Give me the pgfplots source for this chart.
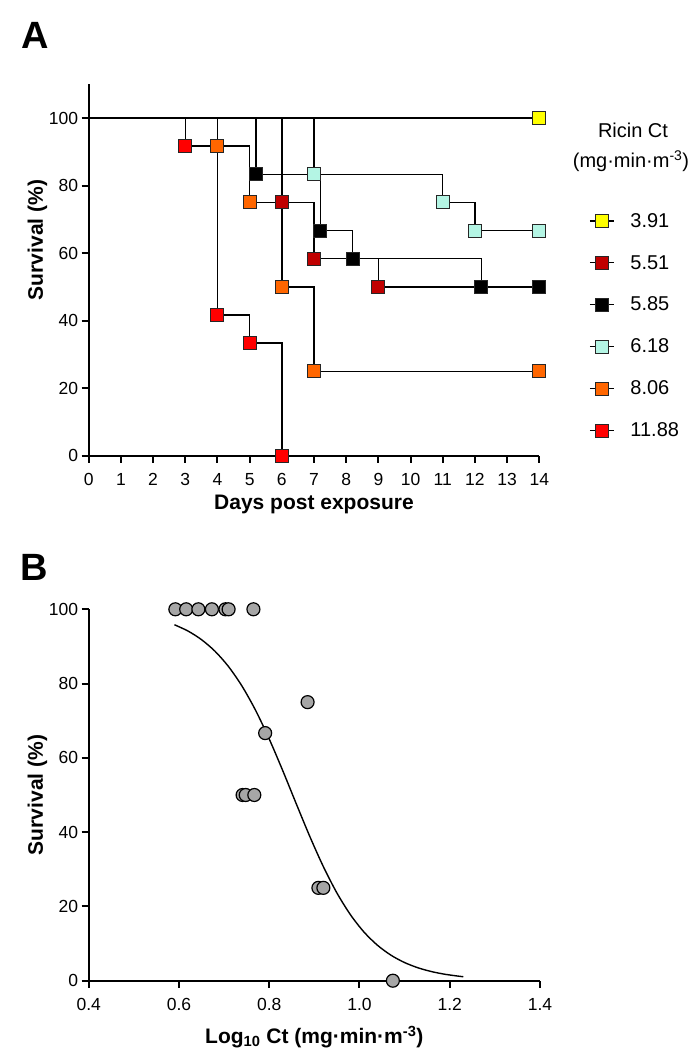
\documentclass[border=0pt]{standalone}
\usepackage{pgfplots}
\pgfplotsset{compat=1.18}
\usepackage{fontspec}
\setmainfont{Liberation Sans}
\definecolor{cyel}{RGB}{255,255,0}
\definecolor{cdred}{RGB}{192,0,0}
\definecolor{ccyan}{RGB}{180,245,228}
\definecolor{corange}{RGB}{255,102,0}
\definecolor{cred}{RGB}{255,0,0}
\definecolor{cgray}{RGB}{166,166,166}

\tikzset{lab/.style={font=\bfseries\fontsize{21}{25}\selectfont}}
\pgfplotsset{
 common/.style={
  scale only axis, clip=false,
  axis x line*=bottom, axis y line*=left,
  axis line style={line width=2pt},
  tick align=outside, major tick length=7pt,
  tick style={line width=2pt, black},
  /pgf/number format/assume math mode=true,
  tick label style={font=\fontsize{17.5}{20}\selectfont},
  xticklabel style={text height=12.5pt, text depth=0pt, yshift=-6.5pt},
 },
 sq/.style={only marks, forget plot, mark=square*, mark size=6.5pt, mark options={draw=black!85, line width=1pt, fill=#1}},
 step/.style={const plot, black, line width=1.4pt, forget plot},
}

\begin{document}
\begin{tikzpicture}
\path[use as bounding box] (0pt,0pt) rectangle (697pt,1055pt);
\begin{axis}[common, at={(88.7pt,599.3pt)}, anchor=south west, width=450.6pt, height=371.4pt,
 xmin=0, xmax=14, ymin=0, ymax=110, xtick={0,1,...,14}, ytick={0,20,40,60,80,100},
 xlabel={Days post exposure}, ylabel={Survival (\%)},
 every axis x label/.style={lab, at={(axis description cs:0.5,-0.146)}, anchor=base},
 every axis y label/.style={lab, at={(axis description cs:-0.1136,0.581)}, anchor=center, rotate=90},
 legend style={draw=none, fill=none, at={(axis description cs:1.1037,0.664)}, anchor=north west,
   font=\fontsize{20}{24}\selectfont, row sep=22.5pt,
   /tikz/every odd column/.append style={column sep=14pt}},
 legend cell align=left,
 legend image code/.code={\draw[mark repeat=2,mark phase=2] plot coordinates {(0pt,0pt) (12pt,0pt) (24pt,0pt)};},
]
% step lines
\addplot[step] coordinates {(0,100) (14,100)};
\addplot[step] coordinates {(0,100) (6,75) (7,58.33) (9,50) (14,50)};
\addplot[step] coordinates {(0,100) (5.2,83.33) (7.2,66.67) (8.2,58.33) (12.2,50) (14,50)};
\addplot[step] coordinates {(0,100) (7,83.33) (11,75) (12,66.67) (14,66.67)};
\addplot[step] coordinates {(0,100) (4,91.67) (5,75) (6,50) (7,25) (14,25)};
\addplot[step] coordinates {(0,100) (3,91.67) (4,41.67) (5,33.33) (6,0)};
% markers
\addplot[sq=cyel] coordinates {(14,100)};
\addplot[sq=cdred] coordinates {(6,75) (7,58.33) (9,50) (14,50)};
\addplot[sq=black] coordinates {(5.2,83.33) (7.2,66.67) (8.2,58.33) (12.2,50) (14,50)};
\addplot[sq=ccyan] coordinates {(7,83.33) (11,75) (12,66.67) (14,66.67)};
\addplot[sq=corange] coordinates {(4,91.67) (5,75) (6,50) (7,25) (14,25)};
\addplot[sq=cred] coordinates {(3,91.67) (4,41.67) (5,33.33) (6,0)};
% legend
\addlegendimage{black, line width=1.2pt, mark=square*, mark size=6.5pt, mark options={draw=black!85, line width=1pt, fill=cyel, solid}}
\addlegendentry{3.91}
\addlegendimage{black, line width=1.2pt, mark=square*, mark size=6.5pt, mark options={draw=black!85, line width=1pt, fill=cdred, solid}}
\addlegendentry{5.51}
\addlegendimage{black, line width=1.2pt, mark=square*, mark size=6.5pt, mark options={draw=black!85, line width=1pt, fill=black, solid}}
\addlegendentry{5.85}
\addlegendimage{black, line width=1.2pt, mark=square*, mark size=6.5pt, mark options={draw=black!85, line width=1pt, fill=ccyan, solid}}
\addlegendentry{6.18}
\addlegendimage{black, line width=1.2pt, mark=square*, mark size=6.5pt, mark options={draw=black!85, line width=1pt, fill=corange, solid}}
\addlegendentry{8.06}
\addlegendimage{black, line width=1.2pt, mark=square*, mark size=6.5pt, mark options={draw=black!85, line width=1pt, fill=cred, solid}}
\addlegendentry{11.88}
\end{axis}

\node[anchor=base, font=\fontsize{20}{24}\selectfont] at (633pt,917pt) {Ricin Ct};
\node[anchor=base, font=\fontsize{20}{24}\selectfont] at (631pt,887pt) {(mg·min·m\textsuperscript{-3})};

\node[anchor=base west, inner sep=0pt, font=\bfseries\fontsize{38}{44}\selectfont] at (21pt,1006pt) {A};
\node[anchor=base west, inner sep=0pt, font=\bfseries\fontsize{38}{44}\selectfont] at (20pt,474pt) {B};

\begin{axis}[common, at={(88.7pt,74.3pt)}, anchor=south west, width=451.3pt, height=371.4pt,
 xmin=0.4, xmax=1.4, ymin=0, ymax=100, xtick={0.4,0.6,0.8,1.0,1.2,1.4}, ytick={0,20,40,60,80,100},
 xticklabel style={/pgf/number format/.cd, fixed, fixed zerofill, precision=1},
 xlabel={Log\textsubscript{10} Ct (mg·min·m\textsuperscript{-3})}, ylabel={Survival (\%)},
 every axis x label/.style={lab, at={(axis description cs:0.5,-0.170)}, anchor=base},
 every axis y label/.style={lab, at={(axis description cs:-0.1134,0.5)}, anchor=center, rotate=90},
]
\addplot[black, line width=1.4pt, smooth] coordinates {
(0.59,95.84) (0.62,94.15) (0.65,91.82) (0.68,88.69) (0.71,84.55) (0.74,79.26)
(0.77,72.75) (0.80,65.08) (0.83,56.55) (0.86,47.61) (0.89,38.82) (0.92,30.70)
(0.95,23.62) (0.98,17.76) (1.01,13.10) (1.04,9.53) (1.07,6.85) (1.10,4.88)
(1.13,3.46) (1.16,2.44) (1.19,1.72) (1.22,1.21) (1.23,1.07)};
\addplot[only marks, mark=*, mark size=6.5pt, mark options={fill=cgray, draw=black, line width=1.2pt}] coordinates {
(0.592,100) (0.616,100) (0.643,100) (0.673,100) (0.703,100) (0.710,100) (0.765,100)
(0.885,75) (0.791,66.67) (0.741,50) (0.748,50) (0.767,50) (0.909,25) (0.920,25) (1.074,0)};
\end{axis}
\end{tikzpicture}
\end{document}
